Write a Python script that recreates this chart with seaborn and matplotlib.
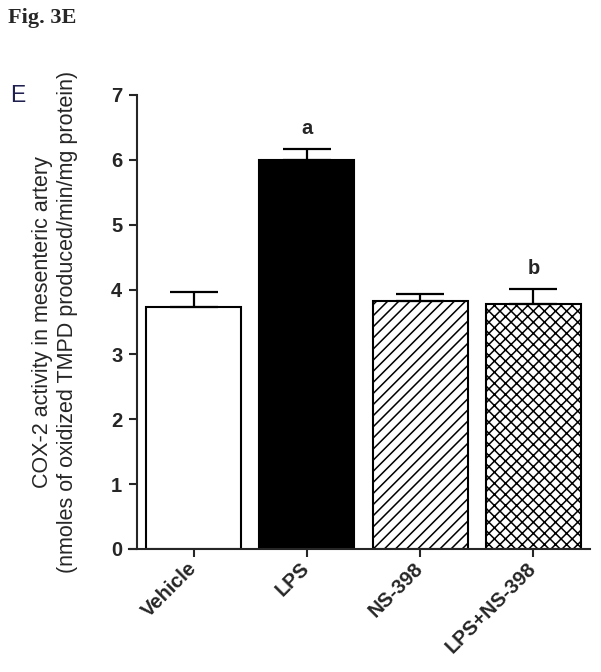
import matplotlib
matplotlib.use("Agg")
import matplotlib.pyplot as plt
import seaborn as sns
import pandas as pd

# ---- data ----
categories = ["Vehicle", "LPS", "NS-398", "LPS+NS-398"]
means = [3.73, 6.00, 3.82, 3.77]
sem = [0.24, 0.17, 0.11, 0.24]
sig_letters = ["", "a", "", "b"]
face_colors = ["white", "black", "white", "white"]
hatches = ["", "", "///", "xxx"]
y_ticks = [0, 1, 2, 3, 4, 5, 6, 7]

sns.set_style("ticks")
plt.rcParams["font.family"] = ["Liberation Sans", "DejaVu Sans"]
plt.rcParams["hatch.linewidth"] = 1.1

df = pd.DataFrame({"group": categories, "value": means})

fig = plt.figure(figsize=(6.01, 6.72), dpi=100)
ax = fig.add_axes([129 / 601, 1 - 549 / 672, (590 - 129) / 601, (549 - 95) / 672])

sns.barplot(data=df, x="group", y="value", hue="group", order=categories,
            hue_order=categories, palette=face_colors, legend=False,
            width=0.84, errorbar=None, edgecolor="black", linewidth=1.5, ax=ax)

for patch, h in zip(ax.patches, hatches):
    patch.set_hatch(h)
    patch.set_edgecolor("black")

xs = list(range(len(categories)))
ax.errorbar(xs, means, yerr=[[0] * len(sem), sem], fmt="none", ecolor="black",
            elinewidth=1.6, capsize=17.5, capthick=1.6, zorder=1)

for x, m, s, lab in zip(xs, means, sem, sig_letters):
    if lab:
        ax.annotate(lab, xy=(x, m + s), xytext=(0, 8), textcoords="offset points",
                    ha="center", va="bottom", fontsize=14.5, fontweight="bold")

# spine placement first (it resets tick formatting)
ax.spines["left"].set_position(("data", -0.5))
for side in ["top", "right"]:
    ax.spines[side].set_visible(False)
for side in ["left", "bottom"]:
    ax.spines[side].set_linewidth(1.5)

ax.set_ylim(0, 7)
ax.set_xlim(-0.57, 3.5)
ax.set_yticks(y_ticks)
ax.set_yticklabels([str(t) for t in y_ticks], fontsize=14.5, fontweight="bold")
ax.set_xticks(xs)
ax.set_xticklabels(categories, fontsize=14.5, fontweight="bold", rotation=45,
                   ha="right", va="center", rotation_mode="anchor")
ax.tick_params(axis="x", length=6, width=1.5, pad=6)
ax.tick_params(axis="y", length=5.5, width=1.5, pad=5)

ax.set_xlabel("")
ax.set_ylabel("COX-2 activity in mesenteric artery\n(nmoles of oxidized TMPD produced/min/mg protein)",
              fontsize=15.5, linespacing=1.25)
ax.yaxis.set_label_coords(-0.11, 0.5)

fig.text(8 / 601, 1 - 8 / 672, "Fig. 3E", fontsize=16, fontweight="bold",
         family="Liberation Serif", ha="left", va="top")
fig.text(10 / 601, 1 - 84 / 672, "E", fontsize=16.5, color="#1f1f50",
         ha="left", va="top")

fig.savefig("out.png", dpi=100, facecolor="white")
